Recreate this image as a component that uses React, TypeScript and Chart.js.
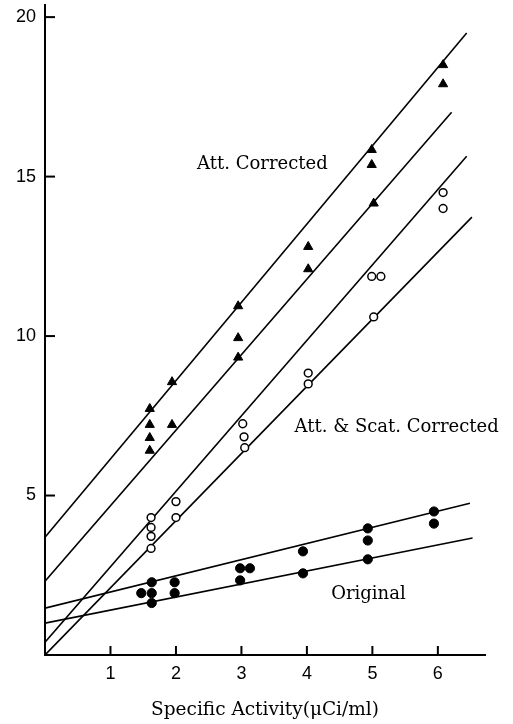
import React, { useEffect, useRef } from "react";
import { Chart, registerables } from "chart.js";

Chart.register(...registerables);

// Att. Corrected (filled triangles)
const triX = [1.6, 1.6, 1.6, 1.6, 1.94, 1.94, 2.95, 2.95, 2.95, 4.02, 4.02, 4.99, 4.99, 5.02, 6.08, 6.08];
const triY = [7.72, 7.22, 6.81, 6.41, 8.56, 7.22, 10.94, 9.94, 9.33, 12.8, 12.1, 15.84, 15.37, 14.16, 18.5, 17.9];

// Att. & Scat. Corrected (open circles)
const openX = [1.62, 1.62, 1.62, 1.62, 2.0, 2.0, 3.02, 3.04, 3.05, 4.02, 4.02, 4.99, 5.13, 5.02, 6.08, 6.08];
const openY = [4.31, 4.0, 3.72, 3.34, 4.81, 4.31, 7.25, 6.84, 6.5, 8.84, 8.5, 11.87, 11.87, 10.6, 14.5, 14.0];

// Original (filled circles)
const fillX = [1.47, 1.63, 1.63, 1.63, 1.98, 1.98, 2.98, 3.13, 2.98, 3.94, 3.94, 4.93, 4.93, 4.93, 5.94, 5.94];
const fillY = [1.94, 2.28, 1.94, 1.63, 2.28, 1.94, 2.72, 2.72, 2.34, 3.25, 2.56, 3.97, 3.59, 3.0, 4.5, 4.12];

// Fitted lines: [x0, x1], [y0, y1]
const lineXs = [
  [0, 6.44],
  [0, 6.21],
  [0, 6.44],
  [0, 6.52],
  [0, 6.49],
  [0, 6.53],
];
const lineYs = [
  [3.69, 19.5],
  [2.31, 17.02],
  [0.4, 15.64],
  [0.0, 13.73],
  [1.47, 4.76],
  [1.0, 3.67],
];

const xTicks = [1, 2, 3, 4, 5, 6];
const yTicks = [5, 10, 15, 20];

const annotTexts = ["Att. Corrected", "Att. & Scat. Corrected", "Original"];
const annotX = [3.32, 5.37, 4.94];
const annotY = [15.39, 7.15, 1.91];

const xTitle = "Specific Activity(\u03bcCi/ml)";

const SERIF = "'DejaVu Serif', 'Liberation Serif', serif";
const SANS = "'Liberation Sans', Arial, sans-serif";

const zip = (xs: number[], ys: number[]) => xs.map((x, i) => ({ x, y: ys[i] }));

const innerTicks = {
  id: "innerTicks",
  afterDatasetsDraw(chart: any) {
    const { ctx, scales } = chart;
    const xs = scales.x;
    const ys = scales.y;
    ctx.save();
    ctx.strokeStyle = "#000";
    ctx.lineWidth = 2;
    const x0 = xs.getPixelForValue(0);
    const y0 = ys.getPixelForValue(0);
    yTicks.forEach((v) => {
      const py = ys.getPixelForValue(v);
      ctx.beginPath();
      ctx.moveTo(x0, py);
      ctx.lineTo(x0 + 10, py);
      ctx.stroke();
    });
    xTicks.forEach((v) => {
      const px = xs.getPixelForValue(v);
      ctx.beginPath();
      ctx.moveTo(px, y0);
      ctx.lineTo(px, y0 - 9);
      ctx.stroke();
    });
    ctx.fillStyle = "#000";
    ctx.font = `18px ${SERIF}`;
    ctx.textAlign = "center";
    ctx.textBaseline = "middle";
    annotTexts.forEach((t, i) => {
      ctx.fillText(t, xs.getPixelForValue(annotX[i]), ys.getPixelForValue(annotY[i]));
    });
    ctx.restore();
  },
};

const zeroPad = (s: any) => {
  s.paddingTop = 0;
  s.paddingBottom = 0;
  s.paddingLeft = 0;
  s.paddingRight = 0;
};

export default function App() {
  const ref = useRef<HTMLCanvasElement | null>(null);
  useEffect(() => {
    if (!ref.current) return;
    const lineSets = lineXs.map((xs, i) => ({
      label: "fit" + i,
      data: zip(xs, lineYs[i]),
      showLine: true,
      borderColor: "#000",
      borderWidth: 1.6,
      pointRadius: 0,
      fill: false,
      order: 10,
    }));
    const chart = new Chart(ref.current, {
      type: "scatter",
      data: {
        datasets: [
          {
            label: "Att. Corrected",
            data: zip(triX, triY),
            pointStyle: "triangle",
            pointRadius: 5.3,
            backgroundColor: "#000",
            borderColor: "#000",
            borderWidth: 1,
            order: 1,
          },
          {
            label: "Att. & Scat. Corrected",
            data: zip(openX, openY),
            pointStyle: "circle",
            pointRadius: 3.9,
            backgroundColor: "#fff",
            borderColor: "#000",
            borderWidth: 1.5,
            order: 1,
          },
          {
            label: "Original",
            data: zip(fillX, fillY),
            pointStyle: "circle",
            pointRadius: 4.6,
            backgroundColor: "#000",
            borderColor: "#000",
            borderWidth: 1,
            order: 1,
          },
          ...lineSets,
        ] as any,
      },
      options: {
        animation: false,
        responsive: true,
        maintainAspectRatio: false,
        layout: { autoPadding: false, padding: { top: 5, right: 28, left: 0, bottom: 0 } },
        plugins: {
          legend: { display: false },
          tooltip: { enabled: false },
          title: { display: false },
        },
        scales: {
          x: {
            type: "linear",
            min: 0,
            max: 6.72,
            afterBuildTicks: (s: any) => {
              s.ticks = xTicks.map((v) => ({ value: v }));
            },
            afterFit: (s: any) => {
              s.height = 69;
              zeroPad(s);
            },
            grid: { display: false, drawTicks: false },
            border: { display: true, color: "#000", width: 2 },
            ticks: {
              color: "#000",
              font: { family: SANS, size: 18 },
              padding: 8,
              maxRotation: 0,
              autoSkip: false,
            },
            title: {
              display: true,
              text: xTitle,
              color: "#000",
              font: { family: SERIF, size: 18.5 },
              padding: { top: 0, bottom: 3 },
            },
          },
          y: {
            type: "linear",
            min: 0,
            max: 20.38,
            afterBuildTicks: (s: any) => {
              s.ticks = yTicks.map((v) => ({ value: v }));
            },
            afterFit: (s: any) => {
              s.width = 45;
              zeroPad(s);
            },
            grid: { display: false, drawTicks: false },
            border: { display: true, color: "#000", width: 2 },
            ticks: {
              color: "#000",
              font: { family: SANS, size: 18 },
              padding: 9,
              autoSkip: false,
            },
          },
        },
      } as any,
      plugins: [innerTicks],
    });
    return () => chart.destroy();
  }, []);
  return (
    <div style={{ position: "fixed", left: 0, top: 0, width: 513, height: 724, background: "#fff" }}>
      <canvas ref={ref} />
    </div>
  );
}
